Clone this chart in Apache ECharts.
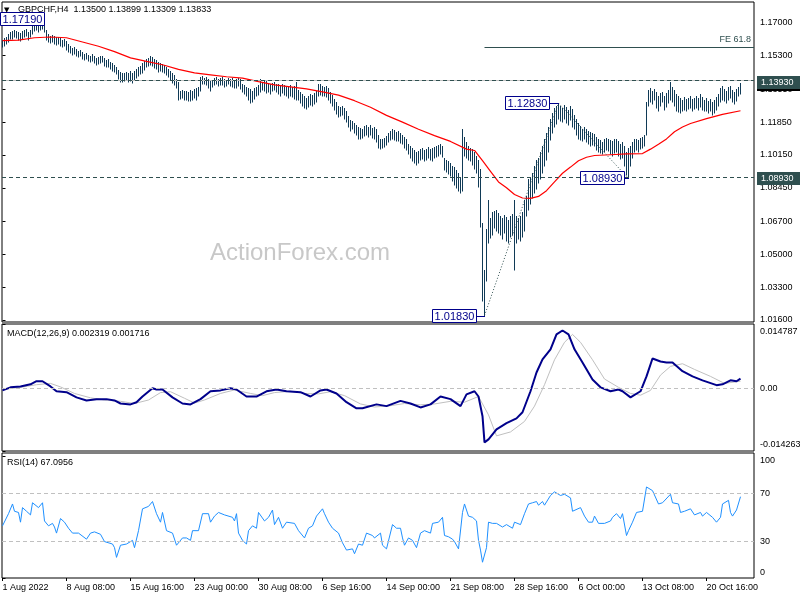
<!DOCTYPE html>
<html><head><meta charset="utf-8">
<script src="https://cdn.jsdelivr.net/npm/echarts@6/dist/echarts.min.js"></script>
<style>html,body{margin:0;padding:0;background:#fff}#c{width:800px;height:600px}</style>
</head><body><div id="c"></div>
<script>
// ---------------- DATA ----------------
const highs = [
1.1612,1.1620,1.1625,1.1640,1.1650,1.1655,1.1662,1.1658,1.1650,1.1645,
1.1655,1.1660,1.1668,1.1652,1.1660,1.1688,1.1700,1.1695,1.1690,1.1698,
1.1705,1.1719,1.1660,1.1640,1.1632,1.1636,1.1630,1.1625,1.1628,1.1622,
1.1612,1.1615,1.1605,1.1590,1.1580,1.1570,1.1575,1.1565,1.1555,1.1560,
1.1548,1.1540,1.1545,1.1535,1.1530,1.1538,1.1525,1.1515,1.1520,1.1525,
1.1530,1.1515,1.1505,1.1510,1.1498,1.1490,1.1480,1.1470,1.1455,1.1445,
1.1440,1.1438,1.1445,1.1440,1.1448,1.1442,1.1452,1.1460,1.1470,1.1475,
1.1490,1.1500,1.1510,1.1515,1.1525,1.1520,1.1510,1.1505,1.1495,1.1490,
1.1485,1.1480,1.1470,1.1460,1.1450,1.1440,1.1430,1.1410,1.1395,1.1345,
1.1350,1.1345,1.1348,1.1340,1.1350,1.1345,1.1355,1.1360,1.1368,1.1420,
1.1425,1.1415,1.1420,1.1410,1.1400,1.1405,1.1412,1.1418,1.1410,1.1415,
1.1420,1.1410,1.1405,1.1415,1.1408,1.1412,1.1405,1.1410,1.1415,1.1410,
1.1385,1.1375,1.1365,1.1360,1.1355,1.1345,1.1360,1.1365,1.1375,1.1410,
1.1395,1.1405,1.1398,1.1390,1.1385,1.1388,1.1395,1.1385,1.1380,1.1375,
1.1385,1.1378,1.1372,1.1368,1.1375,1.1365,1.1370,1.1395,1.1350,1.1340,
1.1330,1.1320,1.1310,1.1320,1.1330,1.1325,1.1335,1.1345,1.1385,1.1380,
1.1370,1.1365,1.1372,1.1360,1.1340,1.1325,1.1305,1.1290,1.1270,1.1265,
1.1270,1.1258,1.1240,1.1215,1.1195,1.1190,1.1180,1.1170,1.1160,1.1155,
1.1150,1.1165,1.1170,1.1160,1.1168,1.1155,1.1160,1.1150,1.1120,1.1100,
1.1095,1.1105,1.1115,1.1130,1.1140,1.1150,1.1145,1.1135,1.1140,1.1130,
1.1120,1.1110,1.1095,1.1070,1.1060,1.1050,1.1040,1.1030,1.1035,1.1045,
1.1050,1.1042,1.1048,1.1055,1.1045,1.1050,1.1058,1.1062,1.1065,1.1070,
1.1060,1.1000,1.0990,1.0985,1.0975,1.0960,1.0950,1.0935,1.0920,1.0900,
1.1148,1.1110,1.1080,1.1060,1.1050,1.1045,1.1030,1.1010,1.0990,1.0940,
1.0660,1.0420,1.0633,1.0780,1.0690,1.0720,1.0726,1.0730,1.0715,1.0700,
1.0690,1.0705,1.0695,1.0680,1.0700,1.0710,1.0780,1.0700,1.0690,1.0700,
1.0720,1.0780,1.0800,1.0890,1.0900,1.0920,1.0960,1.0990,1.1000,1.1030,
1.1060,1.1100,1.1130,1.1160,1.1200,1.1230,1.1260,1.1270,1.1283,1.1270,
1.1260,1.1275,1.1265,1.1250,1.1270,1.1255,1.1220,1.1200,1.1180,1.1165,
1.1150,1.1160,1.1150,1.1140,1.1135,1.1130,1.1125,1.1110,1.1100,1.1090,
1.1080,1.1095,1.1105,1.1100,1.1090,1.1085,1.1095,1.1100,1.1085,1.1070,
1.1080,1.1060,1.1030,1.1050,1.1060,1.1080,1.1095,1.1100,1.1090,1.1105,
1.1110,1.1120,1.1290,1.1350,1.1360,1.1345,1.1355,1.1340,1.1320,1.1335,
1.1340,1.1320,1.1335,1.1350,1.1393,1.1365,1.1350,1.1330,1.1320,1.1310,
1.1300,1.1315,1.1305,1.1310,1.1318,1.1305,1.1312,1.1320,1.1308,1.1330,
1.1315,1.1300,1.1310,1.1295,1.1305,1.1290,1.1300,1.1315,1.1330,1.1360,
1.1370,1.1355,1.1345,1.1365,1.1370,1.1350,1.1340,1.1355,1.1365,1.1390];
const lows = [
1.1575,1.1580,1.1590,1.1600,1.1615,1.1615,1.1625,1.1622,1.1612,1.1605,
1.1618,1.1628,1.1630,1.1610,1.1625,1.1640,1.1655,1.1660,1.1650,1.1662,
1.1668,1.1650,1.1610,1.1598,1.1595,1.1600,1.1590,1.1582,1.1590,1.1580,
1.1575,1.1578,1.1560,1.1550,1.1545,1.1535,1.1540,1.1525,1.1520,1.1525,
1.1510,1.1505,1.1512,1.1500,1.1495,1.1502,1.1490,1.1480,1.1485,1.1490,
1.1495,1.1478,1.1470,1.1468,1.1460,1.1450,1.1445,1.1432,1.1410,1.1395,
1.1392,1.1398,1.1405,1.1395,1.1400,1.1390,1.1405,1.1415,1.1425,1.1435,
1.1440,1.1455,1.1470,1.1478,1.1480,1.1475,1.1465,1.1460,1.1445,1.1450,
1.1445,1.1440,1.1430,1.1420,1.1405,1.1390,1.1375,1.1360,1.1300,1.1305,
1.1310,1.1300,1.1302,1.1295,1.1292,1.1300,1.1310,1.1300,1.1320,1.1345,
1.1385,1.1380,1.1375,1.1360,1.1345,1.1365,1.1375,1.1380,1.1370,1.1378,
1.1375,1.1368,1.1372,1.1380,1.1370,1.1368,1.1360,1.1362,1.1370,1.1355,
1.1340,1.1330,1.1320,1.1300,1.1285,1.1290,1.1305,1.1320,1.1325,1.1340,
1.1350,1.1345,1.1335,1.1340,1.1330,1.1345,1.1350,1.1340,1.1330,1.1320,
1.1335,1.1325,1.1320,1.1312,1.1320,1.1315,1.1305,1.1300,1.1300,1.1285,
1.1270,1.1260,1.1255,1.1265,1.1275,1.1268,1.1280,1.1290,1.1320,1.1325,
1.1318,1.1320,1.1315,1.1300,1.1285,1.1270,1.1250,1.1225,1.1210,1.1215,
1.1220,1.1200,1.1185,1.1160,1.1140,1.1150,1.1130,1.1120,1.1100,1.1095,
1.1105,1.1115,1.1120,1.1110,1.1118,1.1105,1.1100,1.1080,1.1050,1.1045,
1.1050,1.1055,1.1065,1.1080,1.1090,1.1095,1.1090,1.1085,1.1088,1.1075,
1.1070,1.1050,1.1040,1.1020,1.1000,1.0985,1.0975,1.0965,1.0975,1.0990,
1.0995,1.0985,1.0990,1.1000,1.0990,1.0985,1.1000,1.1005,1.1010,1.1020,
1.1005,1.0935,1.0925,1.0915,1.0905,1.0880,1.0860,1.0845,1.0830,1.0820,
1.0830,1.1010,1.1000,1.0990,1.0985,1.0965,1.0940,1.0920,1.0850,1.0640,
1.0260,1.0183,1.0364,1.0560,1.0586,1.0600,1.0638,1.0620,1.0610,1.0600,
1.0580,1.0610,1.0570,1.0560,1.0590,1.0600,1.0420,1.0560,1.0580,1.0570,
1.0590,1.0620,1.0700,1.0730,1.0760,1.0790,1.0820,1.0840,1.0870,1.0890,
1.0920,1.0960,1.0990,1.1030,1.1090,1.1130,1.1160,1.1175,1.1200,1.1190,
1.1185,1.1200,1.1180,1.1170,1.1195,1.1160,1.1150,1.1120,1.1100,1.1090,
1.1085,1.1095,1.1080,1.1070,1.1060,1.1065,1.1060,1.1040,1.1030,1.1025,
1.1020,1.1030,1.1040,1.1035,1.1020,1.1010,1.1025,1.1030,1.1010,1.0995,
1.1000,1.0960,1.0910,1.0893,1.0960,1.1000,1.1030,1.1040,1.1030,1.1045,
1.1050,1.1060,1.1120,1.1270,1.1290,1.1280,1.1300,1.1260,1.1240,1.1270,
1.1290,1.1250,1.1265,1.1285,1.1300,1.1290,1.1270,1.1240,1.1235,1.1230,
1.1240,1.1250,1.1245,1.1255,1.1260,1.1245,1.1255,1.1260,1.1250,1.1265,
1.1250,1.1240,1.1245,1.1230,1.1240,1.1220,1.1230,1.1250,1.1270,1.1290,
1.1300,1.1295,1.1285,1.1300,1.1310,1.1290,1.1280,1.1295,1.1320,1.1331];

const maIdx = [0,8,16,24,32,40,48,56,64,72,80,88,96,104,112,120,128,136,144,152,160,168,176,184,192,200,208,216,224,232,236,240,244,248,252,256,260,264,268,272,276,280,284,288,292,296,304,312,320,324,328,332,336,340,344,352,360,369];
const maVal = [1.1607,1.1610,1.1622,1.1626,1.1622,1.1600,1.1578,1.1550,1.1518,1.1500,1.1482,1.1458,1.1440,1.1430,1.1420,1.1413,1.1395,1.1378,1.1368,1.1357,1.1342,1.1325,1.1296,1.1262,1.1220,1.1185,1.1148,1.1115,1.1085,1.1045,1.1038,1.0985,1.0930,1.0875,1.0845,1.0810,1.0792,1.0790,1.0800,1.0830,1.0875,1.0920,1.0952,1.0985,1.1003,1.1012,1.1016,1.1020,1.1022,1.1045,1.1070,1.1098,1.1135,1.1160,1.1178,1.1203,1.1225,1.1244];

const macdIdx = [0,4,9,14,17,20,24,27,32,37,42,47,52,56,59,64,67,70,75,77,80,85,90,94,99,104,109,114,117,122,127,132,137,142,149,154,159,162,167,172,177,180,187,192,199,204,209,214,219,224,229,232,236,238,240,241,243,247,252,257,260,264,267,270,274,277,280,283,286,290,295,299,304,308,310,314,319,322,325,329,332,335,340,345,350,357,360,364,367,369];
const macdVal = [-0.0004,0.0003,0.0005,0.0010,0.0017,0.0017,0.0005,-0.0006,-0.0008,-0.0020,-0.0027,-0.0024,-0.0024,-0.0027,-0.0034,-0.0036,-0.0031,-0.0018,0.0001,-0.0002,-0.0002,-0.0020,-0.0034,-0.0036,-0.0024,-0.0006,-0.0004,0.0001,-0.0002,-0.0018,-0.0018,-0.0006,-0.0002,-0.0006,-0.0008,-0.0018,-0.0004,-0.0002,-0.0011,-0.0031,-0.0045,-0.0045,-0.0036,-0.0040,-0.0028,-0.0034,-0.0043,-0.0036,-0.0018,-0.0024,-0.0040,-0.0013,-0.0006,-0.0018,-0.0063,-0.0123,-0.0116,-0.0093,-0.0079,-0.0068,-0.0054,-0.0006,0.0037,0.0067,0.0090,0.0124,0.0133,0.0124,0.0090,0.0060,0.0021,0.0003,-0.0006,-0.0002,-0.0006,-0.0020,-0.0006,0.0028,0.0069,0.0062,0.0060,0.0060,0.0040,0.0028,0.0019,0.0008,0.0010,0.0019,0.0017,0.0023];

const sigIdx = [0,9,17,24,29,36,44,51,59,66,73,79,84,91,96,101,109,116,124,130,136,144,151,158,164,171,179,186,194,201,209,216,224,231,238,243,247,254,261,266,271,276,281,285,289,295,301,308,314,319,324,329,334,340,346,354,361,369];
const sigVal = [-0.0002,0.0003,0.0009,0.0012,0.0004,-0.0011,-0.0021,-0.0026,-0.0029,-0.0034,-0.0026,-0.0009,-0.0007,-0.0022,-0.0033,-0.0026,-0.0011,-0.0003,-0.0011,-0.0016,-0.0009,-0.0006,-0.0011,-0.0012,-0.0007,-0.0016,-0.0035,-0.0042,-0.0039,-0.0034,-0.0037,-0.0035,-0.0029,-0.0031,-0.0018,-0.0060,-0.0108,-0.0099,-0.0075,-0.0040,0.0009,0.0066,0.0106,0.0124,0.0106,0.0066,0.0022,0.0003,-0.0011,-0.0015,-0.0004,0.0031,0.0051,0.0057,0.0044,0.0028,0.0012,0.0017];

const rsiIdx = [0,3,5,6,8,9,10,12,14,15,16,18,20,21,23,25,26,27,29,31,33,35,38,42,44,46,49,51,55,56,57,59,62,65,66,68,70,73,75,77,79,80,82,85,87,90,92,94,95,98,100,101,103,104,106,108,111,115,116,117,118,120,122,123,125,127,128,131,133,135,136,138,140,142,146,148,151,153,155,157,160,161,163,165,168,170,172,175,176,178,180,182,185,186,189,190,192,195,197,
199,200,201,203,205,207,209,211,214,215,218,220,221,223,225,226,228,229,230,231,233,235,237,238,239,240,242,243,245,247,250,252,255,256,259,261,263,265,267,268,270,271,274,276,279,281,284,285,289,291,293,295,296,298,301,304,305,307,309,310,312,313,315,317,320,322,323,325,328,330,334,335,338,339,341,344,346,349,350,352,355,357,359,360,363,364,365,367,369];
const rsiVal = [43,53,61,55,54,46,58,55,52,62,63,58,62,47,43,45,42,37,49,46,41,37,37,32,37,38,36,30,28,25,17,27,28,31,25,39,57,59,63,53,46,54,39,37,27,33,33,31,39,39,53,54,53,46,51,54,52,50,47,53,37,31,28,39,43,41,54,47,50,56,44,50,41,46,45,39,33,41,43,51,57,53,46,41,37,29,23,24,20,28,27,37,35,33,37,27,24,44,41,
41,33,27,33,31,25,37,39,37,45,46,50,35,34,32,30,24,23,54,61,51,50,47,31,23,13,25,46,45,45,42,44,41,46,44,53,61,62,63,60,63,60,68,71,68,69,66,55,58,51,46,46,51,45,45,47,50,53,49,53,35,39,46,54,55,75,76,72,61,62,69,62,61,54,55,57,52,54,51,54,50,46,50,61,64,54,51,56,67];

const priceTicks = [1.016,1.033,1.050,1.067,1.0845,1.1015,1.1185,1.1355,1.153,1.170];
const macdTicks = [-0.014263,0,0.014787];
const rsiTicks = [0,30,70,100];
const timeLabels = ['1 Aug 2022','8 Aug 08:00','15 Aug 16:00','23 Aug 00:00','30 Aug 08:00','6 Sep 16:00','14 Sep 00:00','21 Sep 08:00','28 Sep 16:00','6 Oct 00:00','13 Oct 08:00','20 Oct 16:00'];
const barsPerLabel = 32;

const annIdx = [21,241,278,313];
const annVal = [1.1719,1.0183,1.1283,1.0893];
const feLevel = 1.1573;
const resistance = 1.1393;
const support = 1.0893;
const bidPrice = 1.13833;

// ---------------- CHART ----------------
const FONT = '"Liberation Sans", Arial, sans-serif';
const X_MIN = -0.25, X_MAX = 375.75;
const PRICE_MIN = 1.01496, PRICE_MAX = 1.18072;
const BAR_COLOR = '#103a56', LEVEL_COLOR = '#2f4f4f', ANN_COLOR = '#00008b';

const chart = echarts.init(document.getElementById('c'), null, {renderer: 'canvas'});
const zip = (a, b) => a.slice(0, Math.min(a.length, b.length)).map((x, k) => [x, b[k]]);
const bars = highs.map((h, i) => [i, lows[i], h]);
const tickIdx = timeLabels.map((_, k) => k * barsPerLabel);

const gridBase = {left: 2, width: 752, show: true, borderColor: '#000', borderWidth: 1, backgroundColor: 'transparent', containLabel: false, outerBoundsMode: 'none'};
const axLbl = {fontSize: 9, color: '#000', fontFamily: FONT};
const dashed = [4, 3];

function xAx(g) {
  const vis = g === 2;
  return {type: 'value', gridIndex: g, min: X_MIN, max: X_MAX, show: vis,
    axisLine: {show: false}, splitLine: {show: false},
    axisTick: {show: vis, customValues: tickIdx, length: 3, lineStyle: {color: '#000'}},
    axisLabel: Object.assign({show: vis, customValues: tickIdx, align: 'left', margin: 5,
      formatter: v => timeLabels[Math.round(v / barsPerLabel)] || ''}, axLbl)};
}
function yAx(g, min, max, ticks, fmt, rich) {
  return {type: 'value', gridIndex: g, position: 'right', min: min, max: max,
    axisLine: {show: false}, splitLine: {show: false},
    axisTick: {show: true, customValues: ticks, length: 3, lineStyle: {color: '#000'}},
    axisLabel: Object.assign({customValues: ticks, margin: 6, formatter: fmt, showMinLabel: true, showMaxLabel: true, rich: rich || {}}, axLbl)};
}
const richEdge = {
  t: {padding: [16, 0, 0, 0], fontSize: 9, color: '#000', fontFamily: FONT},
  b: {padding: [0, 0, 13, 0], fontSize: 9, color: '#000', fontFamily: FONT},
  t2: {padding: [8, 0, 0, 0], fontSize: 9, color: '#000', fontFamily: FONT},
  b2: {padding: [0, 0, 10, 0], fontSize: 9, color: '#000', fontFamily: FONT}
};

const option = {
  animation: false,
  backgroundColor: '#ffffff',
  textStyle: {fontFamily: FONT},
  grid: [
    Object.assign({top: 2, height: 320}, gridBase),
    Object.assign({top: 324, height: 127}, gridBase),
    Object.assign({top: 453, height: 125}, gridBase)
  ],
  xAxis: [xAx(0), xAx(1), xAx(2)],
  yAxis: [
    yAx(0, PRICE_MIN, PRICE_MAX, priceTicks, v => v.toFixed(5)),
    yAx(1, macdTicks[0], macdTicks[2], macdTicks,
      v => v > 0.001 ? '{t|' + v.toFixed(6) + '}' : (v < -0.001 ? '{b|' + v.toFixed(6) + '}' : '0.00'), richEdge),
    yAx(2, 0, 103, rsiTicks,
      v => v >= 100 ? '{t2|100}' : (v <= 0 ? '{b2|0}' : String(v)), richEdge)
  ],
  series: [
    {
      type: 'custom', name: 'bars', xAxisIndex: 0, yAxisIndex: 0, z: 3, silent: true,
      encode: {x: 0, y: [1, 2]},
      data: bars,
      renderItem: (params, api) => {
        const x = api.value(0);
        const p1 = api.coord([x, api.value(1)]);
        const p2 = api.coord([x, api.value(2)]);
        const px = Math.round(p1[0] - 0.5) + 0.5;
        return {type: 'line', shape: {x1: px, y1: Math.round(p1[1]) + 0.5, x2: px, y2: Math.round(p2[1])},
          style: {stroke: BAR_COLOR, lineWidth: 1}};
      }
    },
    {
      type: 'line', name: 'MA', xAxisIndex: 0, yAxisIndex: 0, z: 4, silent: true,
      data: zip(maIdx, maVal), showSymbol: false, symbol: 'none',
      lineStyle: {color: '#ff0000', width: 1.2},
      markLine: {
        silent: true, symbol: ['none', 'none'], animation: false, label: {show: false},
        data: [
          {yAxis: bidPrice, lineStyle: {color: '#c0c0c0', type: 'solid', width: 1}},
          {yAxis: resistance, lineStyle: {color: LEVEL_COLOR, type: dashed, width: 1}},
          {yAxis: support, lineStyle: {color: LEVEL_COLOR, type: dashed, width: 1}},
          [
            {coord: [annIdx[1], feLevel], lineStyle: {color: LEVEL_COLOR, type: 'solid', width: 1},
              label: {show: true, position: 'insideEndTop', formatter: 'FE 61.8', color: LEVEL_COLOR, fontSize: 9, fontFamily: FONT, distance: 3}},
            {coord: [X_MAX - 0.01, feLevel]}
          ]
        ]
      }
    },
    {
      type: 'line', name: 'zigzag', xAxisIndex: 0, yAxisIndex: 0, z: 5, silent: true,
      data: zip(annIdx.slice(1), annVal.slice(1)), showSymbol: false, symbol: 'none',
      lineStyle: {color: LEVEL_COLOR, width: 1, type: [1, 2]}
    },
    {
      type: 'line', name: 'signal', xAxisIndex: 1, yAxisIndex: 1, z: 3, silent: true,
      data: zip(sigIdx, sigVal), showSymbol: false, symbol: 'none',
      lineStyle: {color: '#c0c0c0', width: 1},
      markLine: {silent: true, symbol: ['none', 'none'], label: {show: false},
        data: [{yAxis: 0}], lineStyle: {color: '#c0c0c0', type: dashed, width: 1}}
    },
    {
      type: 'line', name: 'MACD', xAxisIndex: 1, yAxisIndex: 1, z: 4, silent: true,
      data: zip(macdIdx, macdVal), showSymbol: false, symbol: 'none',
      lineStyle: {color: '#00008b', width: 2}
    },
    {
      type: 'line', name: 'RSI', xAxisIndex: 2, yAxisIndex: 2, z: 4, silent: true,
      data: zip(rsiIdx, rsiVal), showSymbol: false, symbol: 'none',
      lineStyle: {color: '#1e90ff', width: 1},
      markLine: {silent: true, symbol: ['none', 'none'], label: {show: false},
        data: [{yAxis: 70}, {yAxis: 30}], lineStyle: {color: '#c0c0c0', type: dashed, width: 1}}
    }
  ]
};
chart.setOption(option);

// ---------------- overlays (texts & price labels) ----------------
const meas = document.createElement('canvas').getContext('2d');
const ANN_FONT = '11px ' + FONT;
const AX_FONT = '9px ' + FONT;
const annGap = [1, 9, 10, 5];
const g = [];
const txt = (x, y, s, font, fill, align, z) => ({type: 'text', x: x, y: y, z: z, silent: true,
  style: {text: s, font: font, fill: fill, textAlign: align, align: align, textVerticalAlign: 'middle', verticalAlign: 'middle'}});

g.push(txt(210, 253, 'ActionForex.com', '24px ' + FONT, '#c8c8c8', 'left', 1));
g.push(txt(4, 10, '\u25BC', '7px "DejaVu Sans", sans-serif', '#000', 'left', 20));
g.push(txt(18, 10, 'GBPCHF,H4  1.13500 1.13899 1.13309 1.13833', AX_FONT, '#000', 'left', 20));
g.push(txt(7, 334, 'MACD(12,26,9) 0.002319 0.001716', AX_FONT, '#000', 'left', 20));
g.push(txt(7, 463, 'RSI(14) 67.0956', AX_FONT, '#000', 'left', 20));

// right-side price boxes (bid first, so the level boxes cover it)
const rightBoxes = [[bidPrice, '#000000'], [resistance, LEVEL_COLOR], [support, LEVEL_COLOR]];
rightBoxes.forEach(([v, bg], k) => {
  const p = chart.convertToPixel({xAxisIndex: 0, yAxisIndex: 0}, [0, v]);
  const yy = Math.round(p[1]);
  g.push({type: 'rect', z: 21 + k, silent: true, shape: {x: 757, y: yy - 6, width: 44, height: 13},
    style: {fill: bg, stroke: null}});
  g.push(txt(761, yy + 0.5, v.toFixed(5), AX_FONT, '#ffffff', 'left', 21 + k));
});

meas.font = ANN_FONT;
annIdx.forEach((ix, k) => {
  const p = chart.convertToPixel({xAxisIndex: 0, yAxisIndex: 0}, [ix, annVal[k]]);
  const s = annVal[k].toFixed(5);
  const w = Math.round(meas.measureText(s).width + 4);
  const right = Math.round(p[0] - annGap[k]);
  const yy = Math.round(p[1]);
  const x0 = right - w + 0.5, y0 = yy - 6.5;
  g.push({type: 'line', z: 19, silent: true, shape: {x1: right, y1: yy + 0.5, x2: p[0] + 0.5, y2: yy + 0.5},
    style: {stroke: ANN_COLOR, lineWidth: 1}});
  g.push({type: 'rect', z: 19, silent: true, shape: {x: x0, y: y0, width: w, height: 13},
    style: {fill: '#ffffff', stroke: ANN_COLOR, lineWidth: 1}});
  g.push(txt(x0 + w / 2, yy + 0.5, s, ANN_FONT, ANN_COLOR, 'center', 20));
});
chart.setOption({graphic: g});
</script>
</body></html>
